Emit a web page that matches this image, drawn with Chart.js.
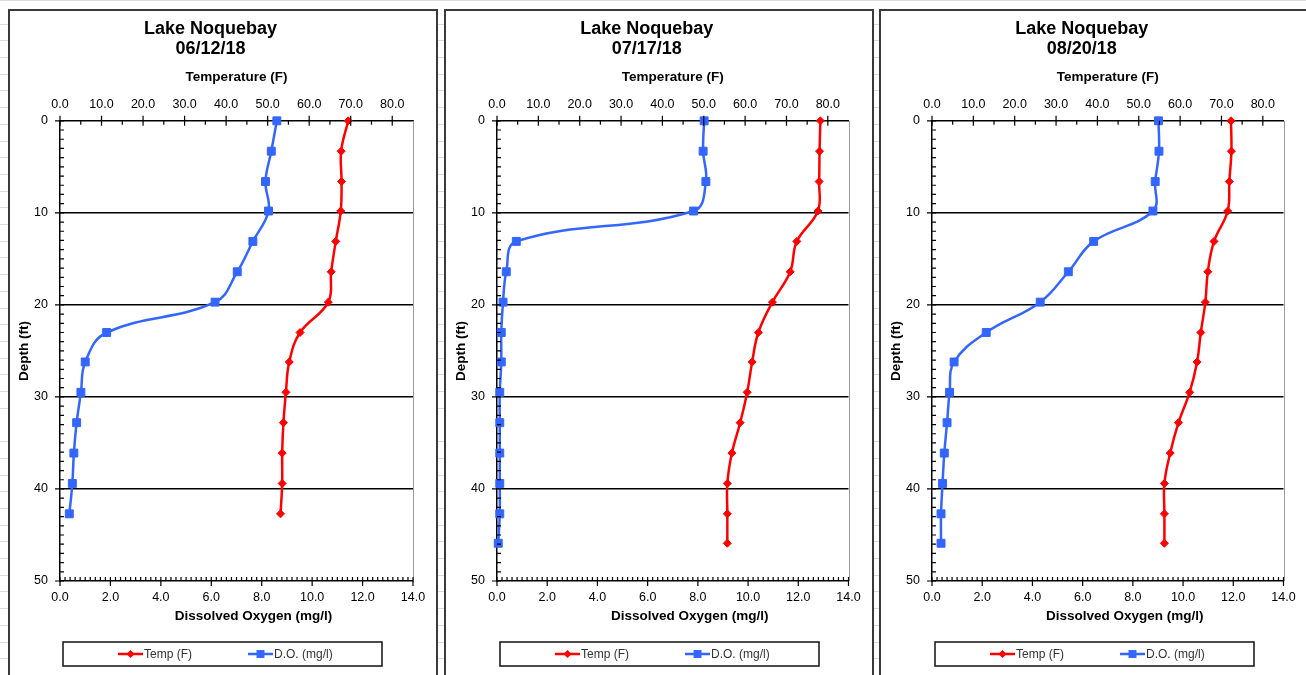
<!DOCTYPE html>
<html>
<head>
<meta charset="utf-8">
<title>Lake Noquebay profiles</title>
<script src="https://cdn.jsdelivr.net/npm/chart.js@4/dist/chart.umd.min.js"></script>
<style>
  html, body { margin: 0; padding: 0; }
  body {
    width: 1306px; height: 675px; overflow: hidden; position: relative;
    background-color: #fff;
    background-image: repeating-linear-gradient(to bottom, transparent 0, transparent 15.7px, #dcdcdc 15.7px, #dcdcdc 16.7px);
    background-position: 0 8px;
    font-family: "Liberation Sans", Arial, sans-serif;
  }
  .panel { position: absolute; top: 9px; height: 700px; width: 426px; background: #fff; border: 2px solid #3a3a3a; }
  canvas { position: absolute; top: 0; }
</style>
</head>
<body>
<div class="panel" style="left:8px"></div>
<div class="panel" style="left:444px"></div>
<div class="panel" style="left:879px"></div>
<canvas id="jun" width="429" height="675" style="left:8px"></canvas>
<canvas id="jul" width="429" height="675" style="left:445px"></canvas>
<canvas id="aug" width="429" height="675" style="left:880px"></canvas>
<script>
// sampling depths (1 m steps, in feet)
var depthFt = [0, 3.3, 6.6, 9.8, 13.1, 16.4, 19.7, 23.0, 26.2, 29.5, 32.8, 36.1, 39.4, 42.7, 45.9];

var sampleDates = ["06/12/18", "07/17/18", "08/20/18"];

// temperature (F) and dissolved oxygen (mg/l) per sampling date
var tempJun = [69.4, 67.7, 67.8, 67.6, 66.4, 65.3, 64.6, 57.8, 55.2, 54.4, 53.8, 53.5, 53.5, 53.1];
var doJun   = [8.60, 8.38, 8.15, 8.27, 7.65, 7.03, 6.15, 1.85, 1.00, 0.83, 0.66, 0.55, 0.49, 0.37];

var tempJul = [78.2, 78.0, 77.9, 77.6, 72.5, 70.9, 66.6, 63.2, 61.7, 60.5, 58.8, 56.8, 55.7, 55.7, 55.7];
var doJul   = [8.25, 8.21, 8.32, 7.83, 0.77, 0.37, 0.24, 0.17, 0.17, 0.11, 0.11, 0.11, 0.11, 0.11, 0.05];

var tempAug = [72.3, 72.4, 71.9, 71.5, 68.2, 66.7, 66.1, 65.0, 64.1, 62.3, 59.6, 57.6, 56.2, 56.2, 56.2];
var doAug   = [9.02, 9.04, 8.89, 8.80, 6.44, 5.43, 4.31, 2.16, 0.88, 0.70, 0.60, 0.49, 0.42, 0.36, 0.36];

var RED = "#ff0000";
var BLUE = "#3366ff";
var FONT = "'Liberation Sans', Arial, sans-serif";

function toPoints(values) {
    return values.map(function (v, i) { return { x: v, y: depthFt[i] }; });
}

function drawMarker(ctx, style, x, y, r) {
    ctx.beginPath();
    if (style === "rect") {
        var h = r * Math.SQRT1_2;
        ctx.rect(x - h, y - h, 2 * h, 2 * h);
    } else {
        ctx.moveTo(x - r, y);
        ctx.lineTo(x, y - r);
        ctx.lineTo(x + r, y);
        ctx.lineTo(x, y + r);
        ctx.closePath();
    }
    ctx.fill();
}

// tick marks, right frame, DO axis title and the boxed legend
var profileFrame = {
    id: "profileFrame",
    afterDraw: function (chart) {
        var ctx = chart.ctx;
        var area = chart.chartArea;
        var sx = chart.scales.x, sx2 = chart.scales.x2, sy = chart.scales.y;
        var i, p;

        ctx.save();
        ctx.strokeStyle = "#9a9a9a";
        ctx.lineWidth = 1;
        ctx.beginPath();
        ctx.moveTo(Math.round(area.right) + 0.5, area.top);
        ctx.lineTo(Math.round(area.right) + 0.5, area.bottom);
        ctx.stroke();

        ctx.strokeStyle = "#000";
        ctx.lineWidth = 1.2;
        ctx.beginPath();
        // depth axis: major every 10 ft, minor every 1 ft
        for (i = 0; i <= 50; i++) {
            p = sy.getPixelForValue(i);
            if (i % 10 === 0) {
                ctx.moveTo(area.left - 5, p);
                ctx.lineTo(area.left + 4, p);
            } else {
                ctx.moveTo(area.left, p);
                ctx.lineTo(area.left + 4, p);
            }
        }
        // temperature axis: major every 10, minor every 5
        for (i = 0; i <= 80; i += 5) {
            p = sx2.getPixelForValue(i);
            if (i % 10 === 0) {
                ctx.moveTo(p, area.top - 5);
                ctx.lineTo(p, area.top + 5);
            } else {
                ctx.moveTo(p, area.top);
                ctx.lineTo(p, area.top + 4);
            }
        }
        // oxygen axis: major every 2, minor every 0.2
        for (i = 0; i <= 70; i++) {
            p = sx.getPixelForValue(i / 5);
            if (i % 10 === 0) {
                ctx.moveTo(p, area.bottom - 4);
                ctx.lineTo(p, area.bottom + 5);
            } else {
                ctx.moveTo(p, area.bottom - 4);
                ctx.lineTo(p, area.bottom);
            }
        }
        ctx.stroke();

        ctx.fillStyle = "#000";
        ctx.font = "bold 13.5px " + FONT;
        ctx.textAlign = "center";
        ctx.textBaseline = "middle";
        ctx.fillText("Dissolved Oxygen (mg/l)", (area.left + area.right) / 2 + 17, area.bottom + 35);

        // legend
        var boxL = area.left + 3, boxR = area.left + 322, boxT = 642, boxH = 24;
        ctx.lineWidth = 1.5;
        ctx.strokeStyle = "#111";
        ctx.strokeRect(boxL, boxT, boxR - boxL, boxH);
        var midY = boxT + boxH / 2;
        var slots = [area.left + 58, area.left + 188];
        ctx.font = "12px " + FONT;
        ctx.textAlign = "left";
        chart.data.datasets.forEach(function (ds, k) {
            var x0 = slots[k];
            ctx.strokeStyle = ds.borderColor;
            ctx.fillStyle = ds.borderColor;
            ctx.lineWidth = 2.5;
            ctx.beginPath();
            ctx.moveTo(x0, midY);
            ctx.lineTo(x0 + 25, midY);
            ctx.stroke();
            drawMarker(ctx, ds.pointStyle, x0 + 12.5, midY, ds.pointRadius);
            ctx.fillStyle = "#333";
            ctx.fillText(ds.label, x0 + 26, midY + 0.5);
        });
        ctx.restore();
    }
};

function buildProfile(id, date, temps, oxygen, rightPad) {
    var tickFont = { family: FONT, size: 12.5 };
    var titleFont = { family: FONT, size: 13.5, weight: "bold" };
    return new Chart(document.getElementById(id), {
        type: "scatter",
        data: {
            datasets: [{
                label: "Temp (F)",
                data: toPoints(temps),
                xAxisID: "x2",
                yAxisID: "y",
                showLine: true,
                clip: false,
                tension: 0.4,
                borderColor: RED,
                backgroundColor: RED,
                borderWidth: 2.5,
                pointStyle: "rectRot",
                pointRadius: 4,
                pointBorderWidth: 1,
                pointBorderColor: RED
            }, {
                label: "D.O. (mg/l)",
                data: toPoints(oxygen),
                xAxisID: "x",
                yAxisID: "y",
                showLine: true,
                clip: false,
                tension: 0.4,
                borderColor: BLUE,
                backgroundColor: BLUE,
                borderWidth: 2.5,
                pointStyle: "rect",
                pointRadius: 5.6,
                pointBorderWidth: 1,
                pointBorderColor: BLUE
            }]
        },
        options: {
            responsive: false,
            animation: false,
            devicePixelRatio: 1,
            events: [],
            layout: { padding: { left: 0, right: rightPad, top: 0, bottom: 44 } },
            plugins: {
                legend: { display: false },
                tooltip: { enabled: false },
                title: {
                    display: true,
                    text: ["Lake Noquebay", date],
                    color: "#000",
                    font: { family: FONT, size: 18, weight: "bold", lineHeight: 1.12 },
                    padding: { top: 18.5, bottom: 0 }
                }
            },
            scales: {
                x: {
                    type: "linear",
                    position: "bottom",
                    min: 0,
                    max: 14,
                    ticks: {
                        stepSize: 2,
                        autoSkip: false,
                        maxRotation: 0,
                        color: "#000",
                        font: tickFont,
                        padding: 9.3,
                        callback: function (v) { return v.toFixed(1); }
                    },
                    grid: { display: false, drawTicks: false },
                    border: { color: "#000", width: 1.5 },
                    afterFit: function (s) { s.height = 50; }
                },
                x2: {
                    type: "linear",
                    position: "top",
                    min: 0,
                    max: 85,
                    ticks: {
                        stepSize: 10,
                        includeBounds: false,
                        autoSkip: false,
                        maxRotation: 0,
                        color: "#000",
                        font: tickFont,
                        padding: 8.5,
                        callback: function (v) { return v.toFixed(1); }
                    },
                    title: {
                        display: true,
                        text: "Temperature (F)",
                        color: "#000",
                        font: titleFont,
                        padding: { top: 10.1, bottom: 0 }
                    },
                    grid: { display: false, drawTicks: false },
                    border: { color: "#000", width: 1.5 },
                    afterFit: function (s) { s.height = 62; }
                },
                y: {
                    type: "linear",
                    reverse: true,
                    min: 0,
                    max: 50,
                    ticks: {
                        stepSize: 10,
                        color: "#000",
                        font: tickFont,
                        padding: 12
                    },
                    title: {
                        display: true,
                        text: "Depth (ft)",
                        color: "#000",
                        font: titleFont,
                        padding: { top: 7.9, bottom: 0 }
                    },
                    grid: {
                        drawTicks: false,
                        lineWidth: 1.5,
                        color: function (c) {
                            var v = c.tick && c.tick.value;
                            return (v > 0 && v < 50) ? "#000" : "rgba(0,0,0,0)";
                        }
                    },
                    border: { color: "#000", width: 1.5 },
                    afterFit: function (s) { s.width = 52; }
                }
            }
        },
        plugins: [profileFrame]
    });
}

buildProfile("jun", sampleDates[0], tempJun, doJun, 24);
buildProfile("jul", sampleDates[1], tempJul, doJul, 25.5);
buildProfile("aug", sampleDates[2], tempAug, doAug, 25.5);
</script>
</body>
</html>
